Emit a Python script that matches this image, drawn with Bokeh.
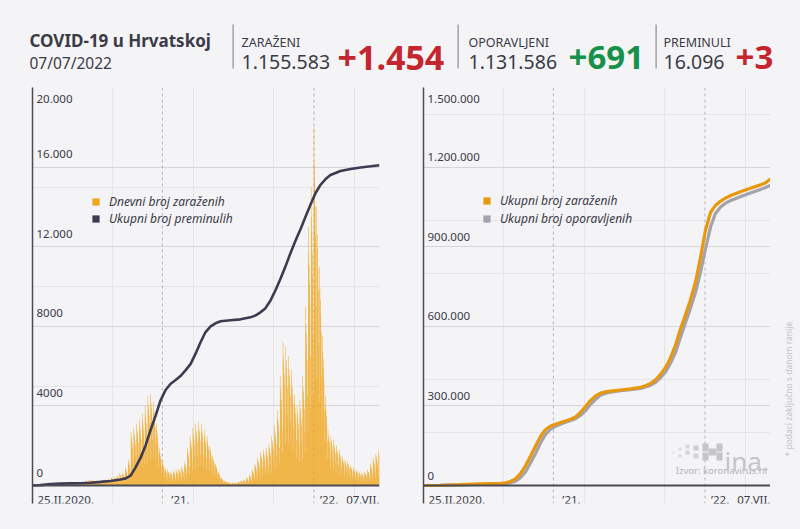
import numpy as np
from bokeh.plotting import figure
from bokeh.models import (Range1d, LinearAxis, FixedTicker, Grid, Span, Label, Legend,
                          LegendItem, BoxAnnotation)
from bokeh.layouts import column, row
from bokeh.core.properties import value
from bokeh.embed import file_html
from bokeh.resources import INLINE

# ---------------- data ----------------
N_DAYS = 863  # 25.II.2020 .. 07.VII.2022 (day index)

weekly_peak_cases = [
    10, 40, 80, 90, 80, 60, 40, 30, 20, 15,
    10, 10, 20, 40, 80, 120, 110, 100, 150, 250,
    300, 280, 250, 230, 250, 280, 300, 350, 400, 450,
    500, 600, 650, 900, 1300, 2700, 2900, 3100, 3300, 3600,
    4000, 4500, 4600, 4200, 3100, 1900, 1300, 900, 800, 700,
    750, 800, 850, 950, 1200, 1900, 2500, 2900, 3100, 3200,
    3100, 2800, 2500, 2000, 1500, 1100, 700, 400, 250, 200,
    150, 150, 150, 200, 250, 300, 400, 550, 800, 1100,
    1400, 1700, 1800, 1900, 2100, 2500, 3000, 3800, 5500, 7200,
    7000, 6500, 5800, 4600, 4000, 4300, 5500, 9000, 13000, 15000,
    18000, 14000, 11000, 7500, 4500, 2800, 2500, 2300, 2000, 1800,
    1500, 1300, 1200, 1000, 900, 800, 700, 650, 700, 800,
    1100, 1400, 1600, 1750]
weekday_share = [1.0, 0.9, 0.85, 0.78, 0.7, 0.5, 0.3]

deaths_day = [0, 20, 45, 70, 95, 119, 144, 169, 194, 219, 231, 244, 256, 269, 281,
              293, 306, 318, 331, 343, 356, 368, 381, 393, 405, 418, 430, 443, 455, 468,
              492, 517, 542, 555, 567, 579, 592, 604, 617, 629, 642, 654, 667, 679, 691,
              704, 716, 729, 741, 766, 791, 816, 841, 863]
deaths_total = [0, 20, 70, 95, 105, 110, 140, 180, 230, 300, 350, 500, 900, 1400, 2000,
                2750, 3500, 4250, 4800, 5100, 5300, 5500, 5800, 6100, 6600, 7200, 7700, 8000, 8150, 8250,
                8300, 8350, 8450, 8550, 8700, 8900, 9300, 9800, 10400, 11000, 11700, 12300, 12900, 13500, 14100,
                14700, 15100, 15400, 15600, 15800, 15900, 15980, 16040, 16096]

cum_day = [0, 42, 92, 142, 167, 192, 204, 216, 229, 241, 254, 266, 279, 291, 303,
           316, 328, 341, 353, 366, 378, 390, 403, 415, 428, 440, 453, 465, 490, 515,
           540, 552, 565, 577, 589, 602, 614, 627, 639, 652, 664, 677, 689, 701, 714,
           726, 739, 751, 764, 788, 813, 838, 851, 863]
cum_cases = [0, 1000, 3000, 6000, 7500, 8500, 10000, 15000, 25000, 45000, 75000, 110000, 150000, 185000, 210000,
             224000, 231000, 237000, 243000, 250000, 258000, 275000, 298000, 320000, 338000, 348000, 353000, 356000, 360000, 364000,
             370000, 376000, 385000, 398000, 418000, 445000, 480000, 530000, 590000, 645000, 700000, 770000, 860000, 960000, 1030000,
             1055000, 1072000, 1083000, 1093000, 1107000, 1120000, 1133000, 1141000, 1155583]
cum_recovered = [0, 500, 2000, 4500, 6000, 7000, 8000, 10500, 16000, 29000, 52000, 85000, 122000, 160000, 192000,
                 212000, 223000, 231000, 238000, 245000, 252000, 264000, 282000, 305000, 325000, 340000, 348000, 352000, 357000, 361000,
                 366000, 371000, 378000, 389000, 405000, 428000, 460000, 502000, 558000, 615000, 668000, 730000, 805000, 890000, 975000,
                 1025000, 1050000, 1064000, 1074000, 1088000, 1102000, 1116000, 1123000, 1131586]

x_tick_days = [0, 323, 700, 863]
x_tick_labels = ["25.II.2020.", "\u201921.", "\u201922.", "07.VII."]
left_y_ticks = [0, 4000, 8000, 12000, 16000, 20000]
left_y_labels = ["0", "4000", "8000", "12.000", "16.000", "20.000"]
right_y_ticks = [0, 300000, 600000, 900000, 1200000, 1500000]
right_y_labels = ["0", "300.000", "600.000", "900.000", "1.200.000", "1.500.000"]

# ---------------- styles ----------------
BG = "#f4f4f6"
TXT = "#3b3a47"
FONT = "Noto Sans"
BAR = "#efa419"
DEATH = "#3e3a51"
OLINE = "#e8980f"
GLINE = "#a3a2ad"
RED = "#c4262e"
GREEN = "#17914a"
AXIS = "#4b4a55"
LOGO = "#c4c4c9"

days = np.arange(N_DAYS + 1)
daily_cases = [weekly_peak_cases[d // 7] * weekday_share[d % 7] for d in days]
NAN = np.array([np.nan])


def blank_fig(w, h):
    f = figure(width=w, height=h, output_backend="svg", toolbar_location=None,
               x_axis_location=None, y_axis_location=None, min_border=0,
               x_range=Range1d(0, 1), y_range=Range1d(0, 1))
    f.background_fill_color = BG
    f.border_fill_color = BG
    f.outline_line_color = None
    f.grid.visible = False
    return f


def make_chart(width, y_max, y_ticks, y_labels, gap, left_border, right_border):
    unit = y_max / 398.0
    p = figure(width=width, height=449, output_backend="svg", toolbar_location=None,
               x_range=Range1d(0, N_DAYS), y_range=Range1d(-18 * unit, y_max),
               x_axis_location=None, y_axis_location=None,
               min_border_left=left_border, min_border_right=right_border,
               min_border_top=7, min_border_bottom=26)
    p.background_fill_color = BG
    p.border_fill_color = BG
    p.outline_line_color = None
    p.add_layout(Grid(dimension=1, ticker=FixedTicker(ticks=y_ticks),
                      grid_line_color="#d5d5da", grid_line_width=1))
    for d in x_tick_days[1:3]:
        p.add_layout(Span(location=d, dimension="height", line_color="#b4b4bb",
                          line_dash="3 3", line_width=1, level="underlay"))
    ax = LinearAxis(ticker=FixedTicker(ticks=[]), axis_line_color=AXIS, axis_line_width=1.5,
                    major_tick_line_color=None, minor_tick_line_color=None)
    p.add_layout(ax, "left")
    offs = [-gap] * (len(y_ticks) - 1) + [11]
    p.text(x=[0] * len(y_ticks), y=y_ticks, text=y_labels, x_offset=4, y_offset=offs,
           text_font=value(FONT), text_font_size="11.5px", text_color=TXT,
           text_baseline="middle", text_align="left")
    p.text(x=x_tick_days[:3], y=[0, 0, 0], text=x_tick_labels[:3], x_offset=[5, 9, 6], y_offset=14,
           text_font=value(FONT), text_font_size="11.5px", text_color=TXT,
           text_baseline="middle", text_align="left")
    p.text(x=x_tick_days[3:], y=[0], text=x_tick_labels[3:], x_offset=0, y_offset=14,
           text_font=value(FONT), text_font_size="11.5px", text_color=TXT,
           text_baseline="middle", text_align="right")
    return p


def style_legend(items, loc, spacing):
    return Legend(items=items, location=loc, glyph_width=9, glyph_height=9, label_standoff=9,
                  label_height=16, spacing=spacing, padding=0, margin=0,
                  border_line_color=None, background_fill_alpha=0,
                  label_text_font=FONT, label_text_font_style="italic",
                  label_text_font_size="12px", label_text_color=TXT)


def screen_box(p, l, r, b, t, color):
    p.add_layout(BoxAnnotation(left=l, right=r, bottom=b, top=t, left_units="screen",
                               right_units="screen", bottom_units="screen", top_units="screen",
                               fill_color=color, fill_alpha=1, line_color=None, level="overlay"))


# ---------------- left chart ----------------
left = make_chart(400, 20000, left_y_ticks, left_y_labels, 13, 32, 21)
bars = left.vbar(x=days, top=daily_cases, width=1.15, fill_color=BAR, line_color=None)
left.line(deaths_day, deaths_total, line_color=DEATH, line_width=2.6)
left.add_layout(Span(location=0, dimension="width", line_color=AXIS, line_width=2))
key_d = left.quad(left=NAN, right=NAN, top=NAN, bottom=NAN, fill_color=DEATH, line_color=None)
left.add_layout(style_legend([LegendItem(label="Dnevni broj zaraženih", renderers=[bars]),
                              LegendItem(label="Ukupni broj preminulih", renderers=[key_d])],
                             (59, 276), 0))

# ---------------- right chart ----------------
right = make_chart(370, 1500000, right_y_ticks, right_y_labels, 10, 23, 0)
right.line(cum_day, cum_recovered, line_color=GLINE, line_width=3.2)
right.line(cum_day, cum_cases, line_color=OLINE, line_width=3.2)
right.add_layout(Span(location=0, dimension="width", line_color=AXIS, line_width=2))
key_c = right.quad(left=NAN, right=NAN, top=NAN, bottom=NAN, fill_color=OLINE, line_color=None)
key_r = right.quad(left=NAN, right=NAN, top=NAN, bottom=NAN, fill_color=GLINE, line_color=None)
right.add_layout(style_legend([LegendItem(label="Ukupni broj zaraženih", renderers=[key_c]),
                               LegendItem(label="Ukupni broj oporavljenih", renderers=[key_r])],
                              (59, 276), 1))

# source note and logo (screen units relative to the frame: left=423, bottom=503 on page)
right.add_layout(Label(x=345, y=33, x_units="screen", y_units="screen",
                       text="Izvor: koronavirus.hr", text_font=FONT, text_font_size="9.5px",
                       text_color="#b3b3b9", text_align="right", text_baseline="middle"))
right.add_layout(Label(x=301, y=43, x_units="screen", y_units="screen",
                       text="ina.", text_font=FONT, text_font_size="26px",
                       text_color=LOGO, text_align="left", text_baseline="alphabetic"))
for (l, r, b, t) in [(279, 285, 52, 60), (279, 285, 43, 51), (285, 293, 48, 55),
                     (293, 299, 52, 60), (293, 299, 43, 51)]:
    screen_box(right, l, r, b, t, LOGO)
for (l, r, b, t, c) in [(270, 275, 53, 58, "#ccccd1"), (270, 275, 45, 50, "#d2d2d6"),
                        (262, 266, 49, 53, "#d2d2d6"), (262, 266, 55, 59, "#d8d8dc"),
                        (255, 258, 53, 56, "#dadade"), (255, 258, 46, 49, "#dcdce0"),
                        (249, 251, 50, 52, "#dedee2")]:
    screen_box(right, l, r, b, t, c)

# vertical note in its own narrow strip at the right edge
note = blank_fig(30, 449)
note.add_layout(Label(x=18, y=47, x_units="screen", y_units="screen",
                      text="* podaci zaključno s danom ranije", angle=np.pi / 2,
                      text_font=FONT, text_font_size="8.5px", text_color="#c2c2c8",
                      text_align="left", text_baseline="middle"))

# ---------------- header ----------------
head = blank_fig(800, 80)


def hlabel(x, y, text, size, color=TXT, bold=False):
    head.add_layout(Label(x=x, y=y, x_units="screen", y_units="screen", text=text,
                          text_font=FONT, text_font_size=size, text_color=color,
                          text_font_style="bold" if bold else "normal",
                          text_align="left", text_baseline="alphabetic"))


hlabel(29, 40, "COVID-19 u Hrvatskoj", "17px", bold=True)
hlabel(29, 18, "07/07/2022", "15.5px")
hlabel(241, 38.5, "ZARAŽENI", "12.5px")
hlabel(241, 19, "1.155.583", "19.5px")
hlabel(337, 23, "+1.454", "34px", RED, True)
hlabel(468, 38.5, "OPORAVLJENI", "12.5px")
hlabel(468, 19, "1.131.586", "19.5px")
hlabel(568, 23, "+691", "33px", GREEN, True)
hlabel(663, 38.5, "PREMINULI", "12.5px")
hlabel(663, 19, "16.096", "19.5px")
hlabel(735, 23, "+3", "33px", RED, True)
for sx in (232, 457, 655):
    head.add_layout(BoxAnnotation(left=sx, right=sx + 1.2, bottom=12, top=56, left_units="screen",
                                  right_units="screen", bottom_units="screen", top_units="screen",
                                  fill_color="#8c8c93", fill_alpha=1, line_color=None))

layout = column(head, row(left, right, note, spacing=0), spacing=0)
html = file_html(layout, INLINE, title="COVID-19 u Hrvatskoj")
html = html.replace("</head>", "<style>body{background:%s;}</style></head>" % BG, 1)
open("out.html", "w").write(html)
